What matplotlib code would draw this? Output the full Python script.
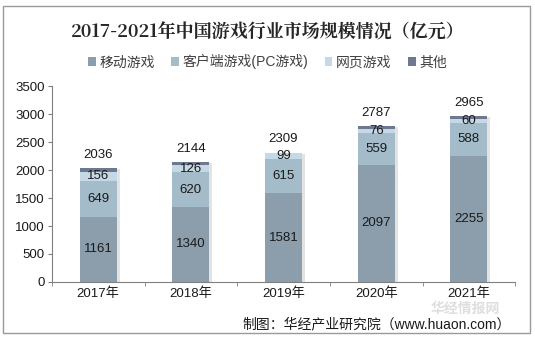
import matplotlib
matplotlib.use("Agg")
import matplotlib.pyplot as plt
import matplotlib.patheffects as pe
from matplotlib.patches import Rectangle, Patch
import numpy as np

plt.rcParams['font.family'] = ['Liberation Sans', 'Noto Sans CJK SC', 'DejaVu Sans']

years = ['2017年', '2018年', '2019年', '2020年', '2021年']
mobile = [1161, 1340, 1581, 2097, 2255]
pc = [649, 620, 615, 559, 588]
web = [156, 126, 99, 76, 60]
totals = [2036, 2144, 2309, 2787, 2965]
other = [t - m - p - w for t, m, p, w in zip(totals, mobile, pc, web)]
series_names = ['移动游戏', '客户端游戏(PC游戏)', '网页游戏', '其他']
colors = ['#8C9EAC', '#A4BCCA', '#C4D8E6', '#6E7890']
yticks = [0, 500, 1000, 1500, 2000, 2500, 3000, 3500]

fig = plt.figure(figsize=(5.35, 3.4), dpi=100)
fig.patches.append(Rectangle((0.006, 0.02), 0.984, 0.962, transform=fig.transFigure,
                             fill=False, edgecolor='#9a9a9a', linewidth=1.0))
ax = fig.add_axes([0.097, 0.1706, 0.866, 0.5764])

x = np.arange(len(years))
w = 0.4
# shadow
ax.bar(x, totals, w, color=colors[0], zorder=1,
       path_effects=[pe.SimplePatchShadow(offset=(2, -1), shadow_rgbFace='#c8c8c8', alpha=0.5), pe.Normal()])
bottom = np.zeros(len(years))
data = [mobile, pc, web, other]
for vals, c, name in zip(data, colors, series_names):
    ax.bar(x, vals, w, bottom=bottom, color=c, zorder=2, label=name)
    if name != '其他':
        for xi, b, v in zip(x, bottom, vals):
            ax.text(xi, b + v / 2, str(v), ha='center', va='center', fontsize=9.5, color='#1a1a1a', zorder=3)
    bottom = bottom + np.array(vals)
for xi, t in zip(x, totals):
    ax.text(xi, t + 130, str(t), ha='center', va='bottom', fontsize=9.5, color='#1a1a1a')

ax.set_xlim(-0.5, len(years) - 0.5)
ax.set_ylim(0, 3500)
ax.set_yticks(yticks)
ax.set_yticklabels([str(v) for v in yticks], fontsize=9.5, color='#1a1a1a')
ax.set_xticks(x)
ax.set_xticklabels(years, fontsize=9.5, color='#1a1a1a')
ax.tick_params(axis='x', length=0, pad=4)
ax.set_xticks(np.arange(-0.5, len(years), 1), minor=True)
ax.tick_params(axis='x', which='minor', length=3, color='#808080', direction='out')
ax.tick_params(axis='y', length=3, color='#808080', direction='out', pad=2)
for s in ['top', 'right']:
    ax.spines[s].set_visible(False)
for s in ['left', 'bottom']:
    ax.spines[s].set_color('#808080')
    ax.spines[s].set_linewidth(0.8)

fig.text(0.5, 0.905, '2017-2021年中国游戏行业市场规模情况（亿元）', ha='center', va='center',
         fontsize=13, fontweight='bold', color='#262626',
         family=['Noto Serif CJK SC', 'Noto Sans CJK SC', 'DejaVu Sans'])

handles = [Patch(facecolor=c, edgecolor='none') for c in colors]
leg = fig.legend(handles, series_names, loc='center', bbox_to_anchor=(0.5, 0.818), ncol=4,
                 frameon=False, fontsize=10, handlelength=0.55, handleheight=0.55,
                 handletextpad=0.25, columnspacing=1.2)
for t in leg.get_texts():
    t.set_color('#404040')

fig.text(0.955, 0.045, '制图：华经产业研究院（www.huaon.com）', ha='right', va='center',
         fontsize=10, color='#1a1a1a')
fig.text(0.87, 0.092, '华经情报网', ha='center', va='center', fontsize=10, fontweight='bold',
         color='#c8c8c8', alpha=0.6, family=['Noto Sans CJK SC'])

fig.savefig('out.png', dpi=100)
